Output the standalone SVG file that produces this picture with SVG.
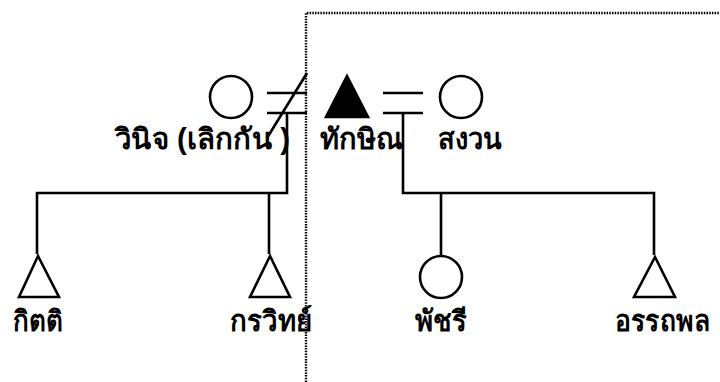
<svg xmlns="http://www.w3.org/2000/svg" width="720" height="382" viewBox="0 0 720 382">
<style>
.s{fill:none;stroke:#000;stroke-width:2.6}
.f{fill:#fff;stroke:#000;stroke-width:2.6}
.k{fill:#000;stroke:#000;stroke-width:2.6}
.t{font-family:"Liberation Sans","Noto Sans",sans-serif;font-weight:bold;font-size:29px;fill:#000}
.d{fill:none;stroke:#000;stroke-width:2.4;stroke-dasharray:1.5 1.2}
</style>
<rect width="720" height="382" fill="#fff"/>
<g id="connectors">
<path class="d" d="M306,382 V13 H720"/>
<path class="s" d="M267,93 H307 M267,113 H307 M307,73 L267,138"/>
<path class="s" d="M383,93 H423 M383,113 H423"/>
<path class="s" d="M287,113 V193 H37 V254 M269,193 V254"/>
<path class="s" d="M403,113 V193 H654 V255 M441,193 V256"/>
</g>
<g id="winit"><circle class="f" cx="231" cy="97" r="21"/><text class="t" x="115" y="149" textLength="175" lengthAdjust="spacingAndGlyphs">วินิจ (เลิกกัน )</text></g>
<g id="thaksin"><polygon class="k" points="347,76 326,117 368,117"/><text class="t" x="320" y="149" textLength="83" lengthAdjust="spacingAndGlyphs">ทักษิณ</text></g>
<g id="sanguan"><circle class="f" cx="461" cy="97" r="21"/><text class="t" x="438" y="149" textLength="64" lengthAdjust="spacingAndGlyphs">สงวน</text></g>
<g id="kitti"><polygon class="f" points="38,256 19,297 59,297"/><text class="t" x="13" y="331" textLength="50" lengthAdjust="spacingAndGlyphs">กิตติ</text></g>
<g id="korawit"><polygon class="f" points="270,256 250,297 290,297"/><text class="t" x="230" y="331" textLength="82" lengthAdjust="spacingAndGlyphs">กรวิทย์</text></g>
<g id="patcharee"><circle class="f" cx="441" cy="277" r="21"/><text class="t" x="415" y="331" textLength="52" lengthAdjust="spacingAndGlyphs">พัชรี</text></g>
<g id="attapol"><polygon class="f" points="655,257 634,297 675,297"/><text class="t" x="615" y="331" textLength="95" lengthAdjust="spacingAndGlyphs">อรรถพล</text></g>
</svg>
